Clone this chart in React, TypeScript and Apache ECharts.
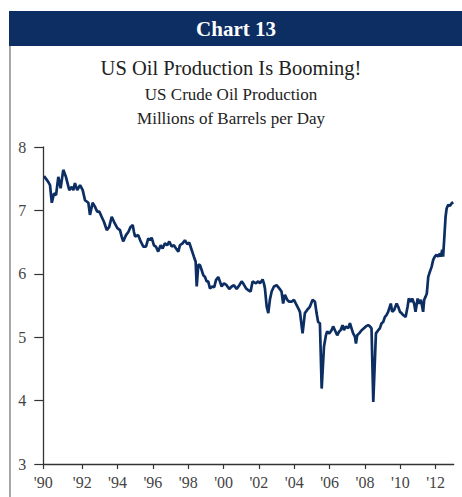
import React, { useEffect, useRef } from "react";
import * as echarts from "echarts";

// Time positions (fractional years)
const years: number[] = [
  1989.84, 1990.08, 1990.18, 1990.28, 1990.41, 1990.52, 1990.65, 1990.78, 1990.93, 1991.08,
  1991.27, 1991.41, 1991.5, 1991.59, 1991.72, 1991.88, 1992.03, 1992.16, 1992.35, 1992.44,
  1992.59, 1992.72, 1992.85, 1992.97, 1993.1, 1993.23, 1993.39, 1993.53, 1993.67, 1993.8,
  1993.99, 1994.14, 1994.23, 1994.32, 1994.48, 1994.61, 1994.74, 1994.86, 1994.93, 1994.99,
  1995.17, 1995.31, 1995.46, 1995.61, 1995.74, 1995.84, 1995.93, 1996.06, 1996.17, 1996.3,
  1996.44, 1996.55, 1996.68, 1996.81, 1996.93, 1997.06, 1997.19, 1997.31, 1997.44, 1997.53,
  1997.68, 1997.81, 1997.94, 1998.06, 1998.19, 1998.32, 1998.42, 1998.48, 1998.57, 1998.66,
  1998.76, 1998.85, 1998.95, 1999.04, 1999.13, 1999.23, 1999.36, 1999.47, 1999.57, 1999.7,
  1999.79, 1999.89, 2000.02, 2000.17, 2000.32, 2000.46, 2000.59, 2000.74, 2000.89, 2001.02,
  2001.11, 2001.27, 2001.4, 2001.53, 2001.64, 2001.83, 2001.96, 2002.06, 2002.21, 2002.28,
  2002.34, 2002.44, 2002.53, 2002.62, 2002.72, 2002.85, 2003.0, 2003.15, 2003.28, 2003.37,
  2003.47, 2003.6, 2003.71, 2003.85, 2003.98, 2004.09, 2004.22, 2004.32, 2004.42, 2004.47,
  2004.6, 2004.73, 2004.88, 2005.04, 2005.17, 2005.26, 2005.35, 2005.45, 2005.55, 2005.68,
  2005.79, 2005.86, 2005.98, 2006.11, 2006.2, 2006.3, 2006.43, 2006.54, 2006.62, 2006.73,
  2006.81, 2006.92, 2007.05, 2007.15, 2007.24, 2007.33, 2007.43, 2007.49, 2007.56, 2007.67,
  2007.81, 2007.94, 2008.05, 2008.18, 2008.28, 2008.37, 2008.47, 2008.62, 2008.75, 2008.84,
  2008.94, 2009.03, 2009.13, 2009.22, 2009.31, 2009.46, 2009.54, 2009.65, 2009.79, 2009.88,
  2009.98, 2010.07, 2010.16, 2010.3, 2010.41, 2010.48, 2010.6, 2010.67, 2010.78, 2010.86,
  2010.98, 2011.05, 2011.16, 2011.24, 2011.29, 2011.35, 2011.43, 2011.5, 2011.58, 2011.67,
  2011.77, 2011.86, 2011.95, 2012.05, 2012.14, 2012.24, 2012.29, 2012.37, 2012.42, 2012.48,
  2012.56, 2012.62, 2012.71, 2012.8, 2012.9, 2012.99,
];

// Millions of barrels per day
const production: number[] = [
  7.54, 7.45, 7.4, 7.12, 7.27, 7.24, 7.53, 7.35, 7.64, 7.53,
  7.32, 7.37, 7.32, 7.43, 7.32, 7.4, 7.32, 7.16, 7.12, 6.93,
  7.12, 7.06, 6.98, 6.98, 6.9, 6.82, 6.69, 6.74, 6.9, 6.82,
  6.72, 6.69, 6.59, 6.51, 6.61, 6.66, 6.74, 6.77, 6.66, 6.59,
  6.61, 6.51, 6.43, 6.43, 6.56, 6.53, 6.57, 6.45, 6.43, 6.35,
  6.45, 6.4, 6.48, 6.45, 6.51, 6.43, 6.45, 6.4, 6.35, 6.45,
  6.48, 6.53, 6.47, 6.49, 6.38, 6.27, 6.19, 5.8, 6.14, 6.14,
  6.06, 5.98, 5.95, 5.88, 5.88, 5.77, 5.8, 5.79, 5.9, 5.95,
  5.88, 5.8, 5.85, 5.82, 5.76, 5.8, 5.82, 5.76, 5.82, 5.88,
  5.85, 5.77, 5.74, 5.72, 5.88, 5.85, 5.88, 5.85, 5.91, 5.85,
  5.77, 5.48, 5.38, 5.59, 5.72, 5.8, 5.82, 5.77, 5.72, 5.53,
  5.67, 5.59, 5.56, 5.56, 5.59, 5.53, 5.46, 5.4, 5.17, 5.06,
  5.38, 5.43, 5.48, 5.59, 5.56, 5.38, 5.24, 5.22, 4.19, 4.85,
  5.03, 5.09, 5.06, 5.11, 5.17, 5.11, 5.03, 5.09, 5.11, 5.19,
  5.11, 5.17, 5.14, 5.22, 5.14, 5.06, 5.01, 4.9, 5.03, 5.06,
  5.11, 5.14, 5.17, 5.19, 5.17, 5.14, 3.98, 5.06, 5.11, 5.14,
  5.22, 5.24, 5.32, 5.35, 5.4, 5.53, 5.4, 5.43, 5.53, 5.48,
  5.4, 5.38, 5.35, 5.32, 5.48, 5.61, 5.56, 5.61, 5.53, 5.4,
  5.61, 5.53, 5.59, 5.48, 5.4, 5.59, 5.64, 5.69, 5.95, 6.03,
  6.11, 6.22, 6.27, 6.3, 6.27, 6.32, 6.27, 6.38, 6.27, 6.53,
  6.9, 7.03, 7.09, 7.07, 7.11, 7.13,
];

const xTickValues: number[] = [1989.8, 1992, 1994, 1996, 1998, 2000, 2002, 2004, 2006, 2008, 2010, 2012];
const xTickLabels: string[] = ["'90", "'92", "'94", "'96", "'98", "'00", "'02", "'04", "'06", "'08", "'10", "'12"];

const headerText = "Chart 13";
const titleText = "US Oil Production Is Booming!";
const subtitle1 = "US Crude Oil Production";
const subtitle2 = "Millions of Barrels per Day";

const NAVY = "#0c2e63";
const SERIF = "'Liberation Serif', 'DejaVu Serif', serif";

export default function App() {
  const ref = useRef<HTMLDivElement>(null);

  useEffect(() => {
    if (!ref.current) return;
    const chart = echarts.init(ref.current, undefined, { renderer: "svg" });
    const data = years.map((y, i) => [y, production[i]]);
    chart.setOption({
      animation: false,
      backgroundColor: "#ffffff",
      title: [
        {
          text: titleText,
          left: "center",
          top: 52,
          textStyle: { fontFamily: SERIF, fontSize: 20.5, fontWeight: "normal", color: "#222" },
        },
        {
          text: subtitle1,
          left: "center",
          top: 81,
          textStyle: { fontFamily: SERIF, fontSize: 17, fontWeight: "normal", color: "#222" },
        },
        {
          text: subtitle2,
          left: "center",
          top: 105,
          textStyle: { fontFamily: SERIF, fontSize: 17, fontWeight: "normal", color: "#222" },
        },
      ],
      graphic: [
        {
          type: "rect",
          shape: { x: 9, y: 11, width: 453, height: 35 },
          style: { fill: NAVY },
          silent: true,
        },
        {
          type: "text",
          x: 236,
          y: 29,
          style: {
            text: headerText,
            fill: "#ffffff",
            font: `bold 21px ${SERIF}`,
            textAlign: "center",
            textVerticalAlign: "middle",
          },
          silent: true,
        },
        {
          type: "line",
          shape: { x1: 10, y1: 46, x2: 10, y2: 497 },
          style: { stroke: "#8a8a8a", lineWidth: 1.5 },
          silent: true,
        },
      ],
      grid: { left: 43.3, right: 8.3, top: 147, bottom: 33, containLabel: false },
      xAxis: {
        type: "value",
        min: 1989.8,
        max: 2013.02,
        axisLine: { show: true, lineStyle: { color: "#333", width: 1.3 } },
        axisTick: {
          show: true,
          length: 5,
          customValues: xTickValues,
          lineStyle: { color: "#333", width: 1.2 },
        },
        axisLabel: {
          customValues: xTickValues,
          margin: 10,
          fontFamily: SERIF,
          fontSize: 16,
          color: "#444",
          formatter: (v: number) => {
            const idx = xTickValues.findIndex((t) => Math.abs(t - v) < 0.01);
            return idx >= 0 ? xTickLabels[idx] : "";
          },
        },
        splitLine: { show: false },
      },
      yAxis: {
        type: "value",
        min: 3,
        max: 8,
        interval: 1,
        axisLine: { show: true, lineStyle: { color: "#333", width: 1.3 } },
        axisTick: { show: true, length: 9, lineStyle: { color: "#333", width: 1.2 } },
        axisLabel: { margin: 17, fontFamily: SERIF, fontSize: 16, color: "#444" },
        splitLine: { show: false },
      },
      series: [
        {
          type: "line",
          data,
          showSymbol: false,
          symbol: "none",
          lineStyle: { color: NAVY, width: 2.7 },
          itemStyle: { color: NAVY },
        },
      ],
    });
    return () => chart.dispose();
  }, []);

  return (
    <div
      ref={ref}
      style={{ position: "fixed", left: 0, top: 0, width: 462, height: 497 }}
    />
  );
}
